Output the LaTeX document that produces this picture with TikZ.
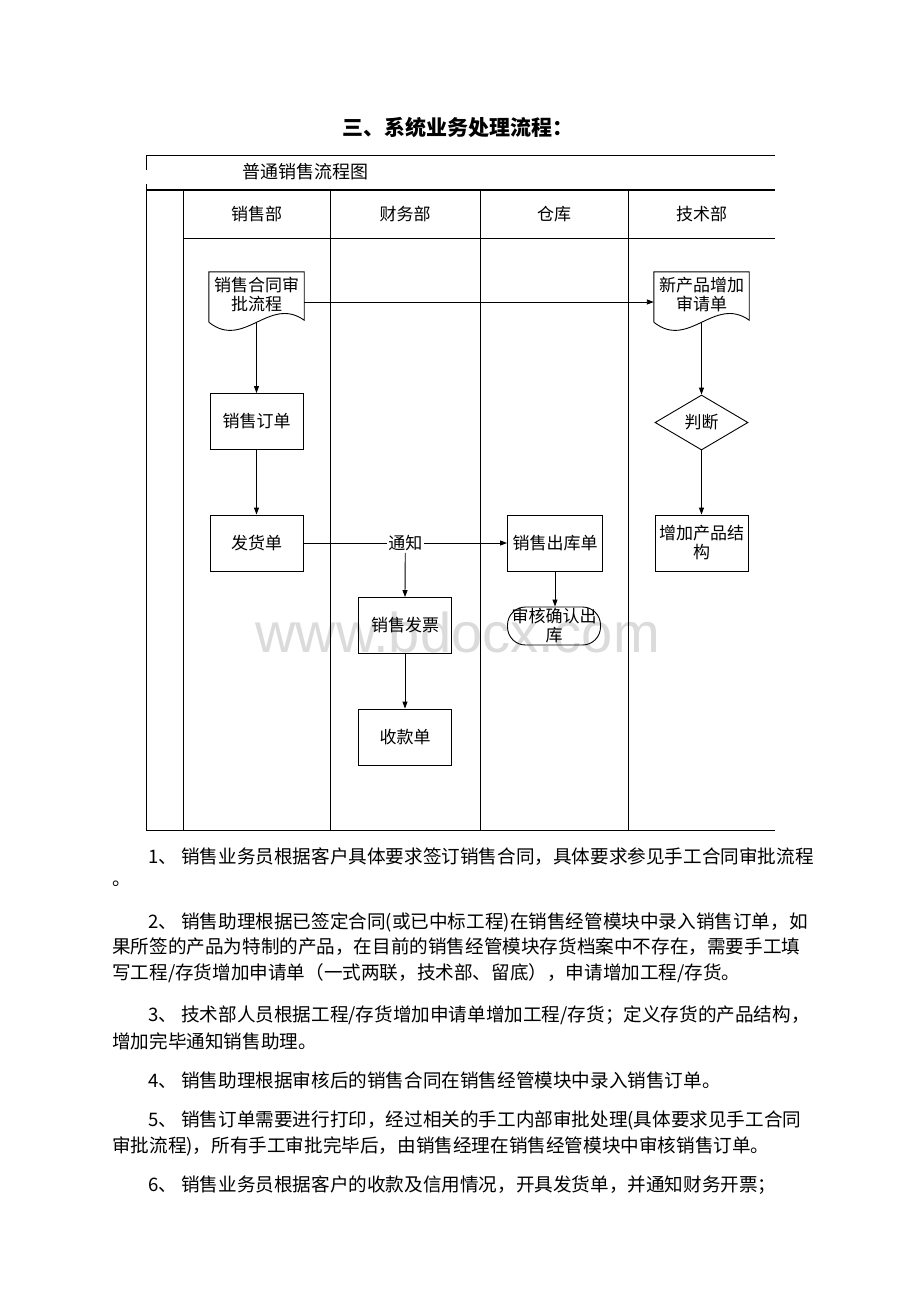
\documentclass[tikz,border=0pt]{standalone}
\usepackage{fontspec}
\setmainfont{Noto Sans CJK SC}
\newfontfamily\markfont{Liberation Sans}
\usepackage{tikz}
\usetikzlibrary{arrows.meta}
\usetikzlibrary{calc}
\usetikzlibrary{shapes.geometric}

\newcommand\boxfont{\fontsize{17pt}{19pt}\selectfont}
\newcommand\bodyfont{\fontsize{18.6pt}{22pt}\selectfont}
\newcommand\titlefont{\bfseries\fontsize{21pt}{24pt}\selectfont}
% wavy outline round a document node
\newcommand\docoutline[1]{%
  \draw[line width=0.9pt] ($(#1.south west)+(0,6)$) -- (#1.north west) -- (#1.north east)
    -- ($(#1.south east)+(0,4)$)
    .. controls ($(#1.south east)+(-35,-21)$) and ($(#1.south west)+(35,34)$) .. ($(#1.south west)+(0,6)$);}

\begin{document}
\begin{tikzpicture}[x=1pt,y=-1pt,
    lane/.style={line width=0.9pt},
    flow/.style={-{Triangle[length=7pt,width=5pt]},line width=0.9pt},
    procbox/.style={draw,line width=0.9pt,minimum width=93pt,minimum height=56pt,align=center,font=\boxfont},
    docnode/.style={minimum width=95pt,minimum height=44pt,align=center,font=\boxfont},
    judge/.style={diamond,draw,line width=0.9pt,minimum width=93pt,minimum height=55pt,inner sep=0pt,font=\boxfont},
    stopnode/.style={draw,line width=0.9pt,rounded corners=18pt,minimum width=93pt,minimum height=38pt,inner sep=1pt,align=center,font=\boxfont},
    body/.style={anchor=west,font=\bodyfont,inner sep=0pt}]

\useasboundingbox (0,0) rectangle (920,1302);

% watermark
\node[anchor=base west,font=\markfont\fontsize{56pt}{60pt}\selectfont,text=black!14,inner sep=0pt] (mark) at (255,652) {www.bdocx.com};

\node[font=\titlefont] (title) at (458,127) {三、系统业务处理流程：};

% frame and lanes
\draw[lane] (146,155) -- (775,155);
\draw[lane] (146,155) -- (146,170);
\draw[lane] (146,184) -- (146,830) -- (775,830);
\draw[line width=2.4pt] (146,190) -- (775,190);
\draw[lane] (183,238) -- (775,238);
\foreach \x in {183,330,480,628}
  \draw[lane] (\x,190) -- (\x,830);

\node[anchor=west,font=\fontsize{18pt}{20pt}\selectfont] (chart) at (239,172) {普通销售流程图};
\node[font=\boxfont] (hsale) at (256.5,214) {销售部};
\node[font=\boxfont] (hfin) at (405,214) {财务部};
\node[font=\boxfont] (hstore) at (554,214) {仓库};
\node[font=\boxfont] (htech) at (701.5,214) {技术部};

% sales lane
\node[docnode] (contract) at (256.5,294) {销售合同审\\批流程};
\docoutline{contract}
\node[procbox] (order) at (256.5,421.5) {销售订单};
\node[procbox] (ship) at (256.5,543) {发货单};

% finance lane
\node[procbox] (invoice) at (405,625.5) {销售发票};
\node[procbox] (receipt) at (405,737) {收款单};

% store lane
\node[procbox,minimum width=95pt] (outbound) at (555,543) {销售出库单};
\node[stopnode] (confirm) at (554,626) {审核确认出\\库};

% tech lane
\node[docnode] (newprod) at (701.5,294) {新产品增加\\审请单};
\docoutline{newprod}
\node[judge] (check) at (701.5,422.5) {判断};
\node[procbox] (addstruct) at (701.5,543) {增加产品结\\构};

% connectors
\draw[flow] ($(contract.south)+(0,6)$) -- (order.north);
\draw[flow] ([yshift=-8pt]contract.east) -- ([yshift=-8pt]newprod.west);
\draw[flow] (order.south) -- (ship.north);
\draw[flow] (ship.east) -- node[fill=white,inner sep=1.5pt,font=\boxfont] (notice) {通知} (outbound.west);
\draw[flow] (notice.south) -- (invoice.north);
\draw[flow] (invoice.south) -- (receipt.north);
\draw[flow] (outbound.south) -- (outbound.south |- confirm.north);
\draw[flow] ($(newprod.south)+(0,6)$) -- (check.north);
\draw[flow] (check.south) -- (addstruct.north);

% text below the chart
\node[body] (p1a) at (148,857) {1、 销售业务员根据客户具体要求签订销售合同，具体要求参见手工合同审批流程};
\node[body] (p1b) at (112,884) {。};
\node[body] (p2a) at (148,922) {2、 销售助理根据已签定合同(或已中标工程)在销售经管模块中录入销售订单，如};
\node[body] (p2b) at (112,947) {果所签的产品为特制的产品，在目前的销售经管模块存货档案中不存在，需要手工填};
\node[body] (p2c) at (112,973) {写工程/存货增加申请单（一式两联，技术部、留底），申请增加工程/存货。};
\node[body] (p3a) at (148,1015) {3、 技术部人员根据工程/存货增加申请单增加工程/存货；定义存货的产品结构，};
\node[body] (p3b) at (112,1041) {增加完毕通知销售助理。};
\node[body] (p4a) at (148,1080) {4、 销售助理根据审核后的销售合同在销售经管模块中录入销售订单。};
\node[body] (p5a) at (148,1120) {5、 销售订单需要进行打印，经过相关的手工内部审批处理(具体要求见手工合同};
\node[body] (p5b) at (112,1146) {审批流程)，所有手工审批完毕后，由销售经理在销售经管模块中审核销售订单。};
\node[body] (p6a) at (148,1185) {6、 销售业务员根据客户的收款及信用情况，开具发货单，并通知财务开票；};
\end{tikzpicture}
\end{document}
